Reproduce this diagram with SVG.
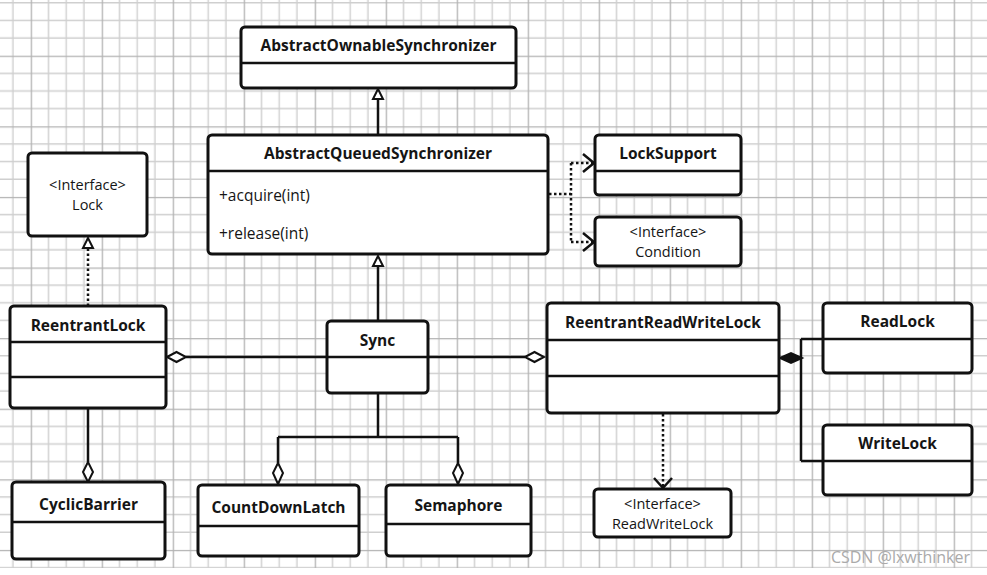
<svg xmlns="http://www.w3.org/2000/svg" width="987" height="575" viewBox="0 0 987 575">
<style>
.box{fill:#fff;stroke:#111;stroke-width:3;}
.div{stroke:#111;stroke-width:2.5;fill:none;}
.t{font-family:"Open Sans","Noto Sans",sans-serif;font-size:15.5px;fill:#151515;text-anchor:middle;}
.i{font-size:14.5px;}
.b{font-weight:bold;}
.m{text-anchor:start;}
.ln{stroke:#111;stroke-width:2.5;fill:none;}
.dot{stroke:#111;stroke-width:2.5;fill:none;stroke-dasharray:2.5 2.5;}
.hol{fill:#fff;stroke:#111;stroke-width:2;}
.fil{fill:#111;stroke:#111;stroke-width:2;}
</style>
<defs>
<pattern id="grid" patternUnits="userSpaceOnUse" x="30.7" y="55.7" width="71" height="70.6">
<path d="M17.75 0V70.6M35.5 0V70.6M53.25 0V70.6M0 17.65H71M0 35.3H71M0 52.95H71" stroke="#cfcfcf" stroke-width="1.4" fill="none"/>
<path d="M0.5 0V70.6M0 0.5H71" stroke="#b3b3b3" stroke-width="1.6" fill="none"/>
</pattern>
</defs>
<rect width="987" height="575" fill="#fff"/>
<rect x="0" y="0" width="987" height="568" fill="url(#grid)"/>

<g id="connectors">
<path class="ln" d="M378 135V98"/>
<path class="hol" d="M378 89L373 99H383Z"/>
<path class="ln" d="M378 321V265"/>
<path class="hol" d="M378 256L373 266H383Z"/>
<path class="dot" d="M88 306V248"/>
<path class="hol" d="M88 238L83 248H93Z"/>
<path class="dot" d="M549 194H571M571 163V242M571 163H593M571 242H593"/>
<path class="ln" d="M583 154L594 163L583 172"/>
<path class="ln" d="M583 233L594 242L583 251"/>
<path class="ln" d="M186 357H525"/>
<path class="hol" d="M167 357L176.5 352L186 357L176.5 362Z"/>
<path class="hol" d="M525 357L534.5 352L544 357L534.5 362Z"/>
<path class="ln" d="M88 409V462"/>
<path class="hol" d="M88 462L83 472L88 482L93 472Z"/>
<path class="ln" d="M378 393V437M278 437H458M278 437V463M458 437V463"/>
<path class="hol" d="M278 463L273 473L278 484L283 473Z"/>
<path class="hol" d="M458 463L453 473L458 484L463 473Z"/>
<path class="ln" d="M801 339V461M801 339H823M801 461H823"/>
<path class="fil" d="M780 358L791 353L802 358L791 363Z"/>
<path class="dot" d="M663 414V486"/>
<path class="ln" d="M654 478L663 488L672 478"/>
</g>

<g id="AbstractOwnableSynchronizer">
<rect class="box" x="241" y="27" width="275" height="61" rx="4"/>
<path class="div" d="M241 63H516"/>
<text class="t b" x="378.5" y="51">AbstractOwnableSynchronizer</text>
</g>

<g id="AbstractQueuedSynchronizer">
<rect class="box" x="208" y="135" width="340" height="119" rx="4"/>
<path class="div" d="M208 171H548"/>
<text class="t b" x="378" y="159">AbstractQueuedSynchronizer</text>
<text class="t m" x="219" y="201">+acquire(int)</text>
<text class="t m" x="219" y="239">+release(int)</text>
</g>

<g id="LockSupport">
<rect class="box" x="595" y="135" width="146" height="60" rx="4"/>
<path class="div" d="M595 171H741"/>
<text class="t b" x="668" y="159">LockSupport</text>
</g>

<g id="Condition">
<rect class="box" x="595" y="217" width="146" height="49" rx="4"/>
<text class="t i" x="668" y="237">&lt;Interface&gt;</text>
<text class="t i" x="668" y="257">Condition</text>
</g>

<g id="Lock">
<rect class="box" x="28" y="153" width="119" height="83" rx="4"/>
<text class="t i" x="87.5" y="190">&lt;Interface&gt;</text>
<text class="t i" x="87.5" y="210">Lock</text>
</g>

<g id="ReentrantLock">
<rect class="box" x="10" y="306" width="156" height="102" rx="4"/>
<path class="div" d="M10 342H166M10 377H166"/>
<text class="t b" x="88" y="331">ReentrantLock</text>
</g>

<g id="Sync">
<rect class="box" x="327" y="321" width="101" height="72" rx="4"/>
<path class="div" d="M327 357H428"/>
<text class="t b" x="377.5" y="346">Sync</text>
</g>

<g id="ReentrantReadWriteLock">
<rect class="box" x="547" y="303" width="232" height="110" rx="4"/>
<path class="div" d="M547 340H779M547 376H779"/>
<text class="t b" x="663" y="328">ReentrantReadWriteLock</text>
</g>

<g id="ReadLock">
<rect class="box" x="823" y="303" width="149" height="70" rx="4"/>
<path class="div" d="M823 339H972"/>
<text class="t b" x="897.5" y="327">ReadLock</text>
</g>

<g id="WriteLock">
<rect class="box" x="823" y="425" width="149" height="70" rx="4"/>
<path class="div" d="M823 461H972"/>
<text class="t b" x="897.5" y="449">WriteLock</text>
</g>

<g id="ReadWriteLock">
<rect class="box" x="594" y="489" width="137" height="48" rx="4"/>
<text class="t i" x="662.5" y="509">&lt;Interface&gt;</text>
<text class="t i" x="662.5" y="529">ReadWriteLock</text>
</g>

<g id="CyclicBarrier">
<rect class="box" x="12" y="482" width="153" height="77" rx="4"/>
<path class="div" d="M12 522H165"/>
<text class="t b" x="88.5" y="510">CyclicBarrier</text>
</g>

<g id="CountDownLatch">
<rect class="box" x="198" y="485" width="161" height="71" rx="4"/>
<path class="div" d="M198 526H359"/>
<text class="t b" x="278.5" y="513">CountDownLatch</text>
</g>

<g id="Semaphore">
<rect class="box" x="386" y="485" width="145" height="71" rx="4"/>
<path class="div" d="M386 524H531"/>
<text class="t b" x="458.5" y="511">Semaphore</text>
</g>

<text x="970" y="563" style="font-family:'Open Sans','Noto Sans',sans-serif;font-size:16px;fill:#aaa;text-anchor:end;">CSDN @lxwthinker</text>
</svg>
